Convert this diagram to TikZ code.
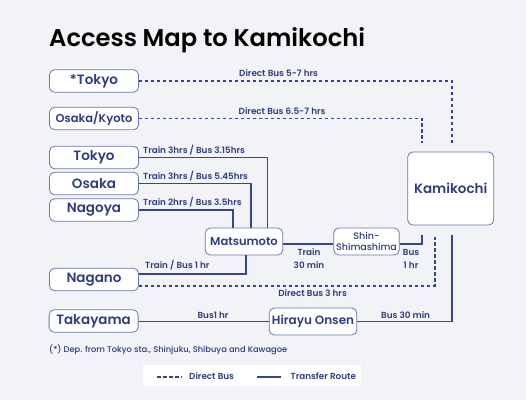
\documentclass[tikz,border=0pt]{standalone}
\usepackage{fontspec}
\setmainfont{Poppins}
\newfontfamily\medfont{Poppins Medium}
\newfontfamily\semifont{Poppins SemiBold}
\usetikzlibrary{calc}
\definecolor{bg}{HTML}{F2F3F7}
\definecolor{navy}{HTML}{2D3D7F}
\definecolor{routec}{HTML}{34468C}
\definecolor{edgec}{HTML}{6A77AD}
\begin{document}
\begin{tikzpicture}[x=1pt,y=-1pt,
  place/.style={draw=edgec, line width=0.8pt, fill=white, rounded corners=5pt, text=navy,
    font=\semifont\fontsize{13.5}{15}\selectfont, minimum width=89pt, minimum height=22.5pt, inner sep=0pt},
  hub/.style={place, font=\semifont\fontsize{11.5}{13}\selectfont, minimum height=27pt},
  route/.style={draw=routec, line width=1.8pt},
  dbus/.style={draw=routec, line width=1.8pt, dash pattern=on 3.5pt off 2.5pt},
  lbl/.style={text=navy, font=\semifont\fontsize{8.8}{10}\selectfont, inner sep=0pt}]
\fill[bg] (0,0) rectangle (526,400);
\useasboundingbox (0,0) rectangle (526,400);

% title
\node[anchor=base west, inner sep=0pt, font=\semifont\fontsize{24.2}{28}\selectfont] (title) at (49,46) {Access Map to Kamikochi};

% places
\node[place] (tokyoS) at (94,81) {*Tokyo};
\node[place, font=\semifont\fontsize{11.5}{13}\selectfont] (osakyo) at (94,118.5) {Osaka/Kyoto};
\node[place] (tokyo) at (94,157.5) {Tokyo};
\node[place] (osaka) at (94,183.5) {Osaka};
\node[place] (nagoya) at (94,210) {Nagoya};
\node[place] (nagano) at (94,279.5) {Nagano};
\node[place] (takayama) at (93.6,321) {Takayama};
\node[hub, minimum width=77.5pt] (matsumoto) at (244,241.5) {Matsumoto};
\node[hub, minimum width=65.4pt, font=\medfont\fontsize{9.5}{11}\selectfont, align=center] (shin) at (366.5,241.5) {Shin-\\Shimashima};
\node[place, minimum width=86pt, minimum height=73pt] (kamikochi) at (450.7,188.5) {Kamikochi};
\node[hub, minimum width=87.5pt, font=\semifont\fontsize{12}{13}\selectfont] (hirayu) at (313,321.5) {Hirayu Onsen};

% free ends near Kamikochi
\coordinate (kt1) at (422,143);
\coordinate (kt2) at (452,143);
\coordinate (kb1) at (422,235);
\coordinate (kb2) at (434.8,237);
\coordinate (kb3) at (452,235);
\coordinate (mline) at (300,244);

% direct buses
\draw[dbus] (tokyoS.east) -| (kt2);
\draw[dbus] (osakyo.east) -| (kt1);
\draw[dbus] ([yshift=-6.5pt]nagano.east) -| (kb2);

% transfer routes
\draw[route] (tokyo.east) -| ([xshift=23.4pt]matsumoto.north);
\draw[route] (osaka.east) -| ([xshift=7.3pt]matsumoto.north);
\draw[route] (nagoya.east) -| ([xshift=-10.9pt]matsumoto.north);
\draw[route] ([xshift=2.2pt]matsumoto.south) |- ([yshift=5.5pt]nagano.east);
\draw[route] (matsumoto.east |- mline) -- (shin.west |- mline);
\draw[route] (shin.east |- mline) -| (kb1);
\draw[route] (takayama.east |- hirayu.east) -- (hirayu.west);
\draw[route] (hirayu.east) -| (kb3);

% labels
\node[lbl, anchor=west] (l1) at (239,73.5) {Direct Bus 5-7 hrs};
\node[lbl, anchor=west] (l2) at (238.5,111) {Direct Bus 6.5-7 hrs};
\node[lbl, anchor=west] (l3) at (143,150) {Train 3hrs / Bus 3.15hrs};
\node[lbl, anchor=west] (l4) at (143,176.5) {Train 3hrs / Bus 5.45hrs};
\node[lbl, anchor=west] (l5) at (143,202) {Train 2hrs / Bus 3.5hrs};
\node[lbl, anchor=west] (l6) at (145,265.5) {Train / Bus 1 hr};
\node[lbl, align=center, font=\semifont\fontsize{8.8}{13}\selectfont] (l7) at (309,258.5) {Train\\30 min};
\node[lbl, align=center, font=\semifont\fontsize{8.8}{13}\selectfont] (l8) at (411,258.5) {Bus\\1 hr};
\node[lbl] (l9) at (312.6,293.5) {Direct Bus 3 hrs};
\node[lbl] (l10) at (213,315) {Bus1 hr};
\node[lbl] (l11) at (405.6,315) {Bus 30 min};
\node[lbl, anchor=west, font=\medfont\fontsize{8.3}{9}\selectfont] (note) at (49,350) {(*) Dep. from Tokyo sta., Shinjuku, Shibuya and Kawagoe};

% legend
\node[fill=white, minimum width=218.4pt, minimum height=21pt, inner sep=0pt] (legend) at (251.8,375.5) {};
\coordinate (ld1) at (157,377);
\coordinate (ld2) at (181.8,377);
\coordinate (ls1) at (256.6,377);
\coordinate (ls2) at (281.1,377);
\draw[dbus, line width=1.5pt] (ld1) -- (ld2);
\draw[route, line width=1.5pt] (ls1) -- (ls2);
\node[lbl, anchor=west] (ldt) at (189,376.5) {Direct Bus};
\node[lbl, anchor=west] (lst) at (290.5,376.5) {Transfer Route};
\end{tikzpicture}
\end{document}
